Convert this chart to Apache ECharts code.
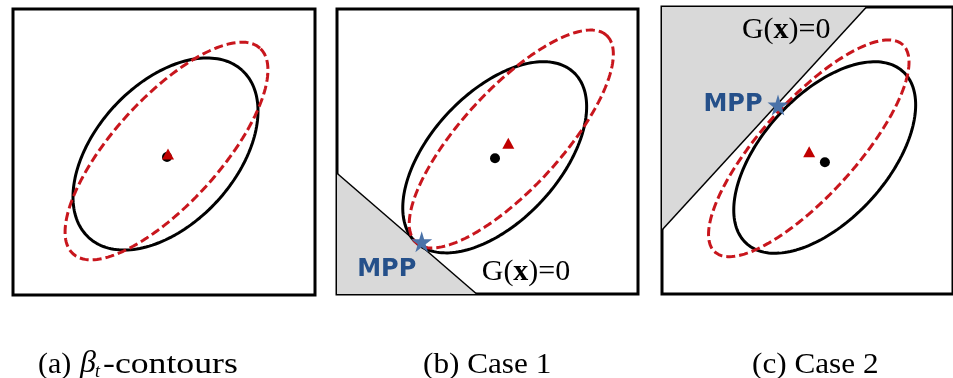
<!DOCTYPE html>
<html>
<head>
<meta charset="utf-8">
<script src="https://cdn.jsdelivr.net/npm/echarts@6/dist/echarts.min.js"></script>
<style>html,body{margin:0;padding:0;background:#fff}#c{width:953px;height:378px}</style>
</head>
<body>
<div id="c"></div>
<script>
// Panel ids and captions
const panelIds = ['a', 'b', 'c'];
const captionParts = [['(a)', 'β', 't', '-contours'], ['(b) Case 1'], ['(c) Case 2']];
// Axis extents of each panel (box units)
const xExtents = [302, 301, 296];
const yExtents = [286, 285, 287];
// Black solid contour (original): centre, semi-axes, rotation (deg)
const blackCenters = [[152.5, 141], [157.7, 136.7], [165.5, 136.5]];
const blackAxes = [[113.5, 70], [116, 64.3], [117.2, 63.2]];
const blackAngles = [47.4, 47.1, 46.8];
// Red dashed contour (shifted): centre, semi-axes, rotation (deg)
const redCenters = [[153.5, 144], [174.3, 155], [149.3, 145.7]];
const redAxes = [[139, 53], [140.8, 49.6], [141, 47.6]];
const redAngles = [47.7, 47.4, 47.2];
// Mean points
const meanPoints = [[154, 138], [158, 135.7], [165.7, 131.7]];
const shiftedMeans = [[155, 141], [171.3, 150.7], [149.7, 142.3]];
// MPP points and limit-state lines
const mppPoints = [null, [84.7, 52.3], [118, 189]];
const limitLines = [null, [[0, 120.7], [139.7, 0]], [[0, 64], [208, 287]]];
const limitLabelPos = [null, [189, 22], [126.3, 264]];

const chart = echarts.init(document.getElementById('c'), null, {renderer: 'canvas'});

const gridBoxes = [
  {left: 13, top: 9, width: 302, height: 286},
  {left: 337, top: 9, width: 301, height: 285},
  {left: 662, top: 7, width: 296, height: 287}
];
// caption text pieces: [x, y, scaleX, fontSize, italic]
const captionPlaces = [
  [[38, 350, 1.0, 30, false], [80, 348, 1.0, 32, true], [95, 363, 1.0, 18, true], [103, 350, 1.19, 30, false]],
  [[423, 350, 1.04, 30, false]],
  [[752, 350, 1.04, 30, false]]
];

function ellipse(c, ab, deg) {
  const th = deg * Math.PI / 180, pts = [];
  for (let i = 0; i <= 180; i++) {
    const t = i / 180 * 2 * Math.PI;
    const u = ab[0] * Math.cos(t), v = ab[1] * Math.sin(t);
    pts.push([c[0] + u * Math.cos(th) - v * Math.sin(th), c[1] + u * Math.sin(th) + v * Math.cos(th)]);
  }
  return pts;
}

const serif = 'Liberation Serif';
const starPath = 'path://M50,0 L61,35 L98,35 L68,57 L79,91 L50,70 L21,91 L32,57 L2,35 L39,35 Z';
const grids = [], xAxes = [], yAxes = [], series = [], graphics = [];
panelIds.forEach((p, i) => {
  grids.push(Object.assign({show: true, borderColor: '#000', borderWidth: 3, backgroundColor: '#fff', containLabel: false}, gridBoxes[i]));
  xAxes.push({gridIndex: i, type: 'value', min: 0, max: xExtents[i], show: false});
  yAxes.push({gridIndex: i, type: 'value', min: 0, max: yExtents[i], show: false});
  captionParts[i].forEach((txt, k) => {
    const pl = captionPlaces[i][k];
    graphics.push({type: 'text', x: pl[0], y: pl[1], scaleX: pl[2], silent: true,
      style: {text: txt, fontFamily: serif, fontSize: pl[3], fontStyle: pl[4] ? 'italic' : 'normal',
        fill: '#000', verticalAlign: 'top'}});
  });
  if (limitLines[i]) {
    series.push({type: 'line', xAxisIndex: i, yAxisIndex: i, data: limitLines[i], showSymbol: false, silent: true,
      lineStyle: {color: '#000', width: 1.5}, z: 1,
      areaStyle: {color: '#d9d9d9', opacity: 1, origin: i === 1 ? 'start' : 'end'}});
    series.push({type: 'scatter', xAxisIndex: i, yAxisIndex: i, data: [limitLabelPos[i]], symbolSize: 0, z: 6,
      itemStyle: {opacity: 1},
      label: {show: true, position: 'inside', formatter: '{n|G(}{x|x}{n|)=0}',
        rich: {n: {fontFamily: serif, fontSize: 30, color: '#000'},
               x: {fontFamily: serif, fontSize: 30, fontWeight: 'bold', color: '#000'}}}});
  }
  series.push({type: 'line', xAxisIndex: i, yAxisIndex: i, data: ellipse(blackCenters[i], blackAxes[i], blackAngles[i]),
    showSymbol: false, silent: true, lineStyle: {color: '#000', width: 3}, z: 3});
  series.push({type: 'line', xAxisIndex: i, yAxisIndex: i, data: ellipse(redCenters[i], redAxes[i], redAngles[i]),
    showSymbol: false, silent: true, lineStyle: {color: '#c8161d', width: 3, type: [9, 4]}, z: 4});
  series.push({type: 'scatter', xAxisIndex: i, yAxisIndex: i, data: [meanPoints[i]], symbol: 'circle', symbolSize: 10,
    itemStyle: {color: '#000', opacity: 1}, z: 5});
  series.push({type: 'scatter', xAxisIndex: i, yAxisIndex: i, data: [shiftedMeans[i]], symbol: 'triangle', symbolSize: [12, 11],
    itemStyle: {color: '#c00000', opacity: 1}, z: 6});
  if (mppPoints[i]) {
    series.push({type: 'scatter', xAxisIndex: i, yAxisIndex: i, data: [mppPoints[i]], symbol: starPath, symbolSize: 21,
      itemStyle: {color: '#4a72a8', opacity: 1}, z: 7,
      label: {show: true, formatter: 'MPP', position: 'inside', offset: i === 1 ? [-35, 28] : [-45, 0],
        fontFamily: 'DejaVu Sans', fontWeight: 'bold', fontSize: 24, color: '#25508a'}});
  }
});

chart.setOption({
  animation: false,
  backgroundColor: '#fff',
  grid: grids,
  xAxis: xAxes,
  yAxis: yAxes,
  series: series,
  graphic: graphics
});
</script>
</body>
</html>
